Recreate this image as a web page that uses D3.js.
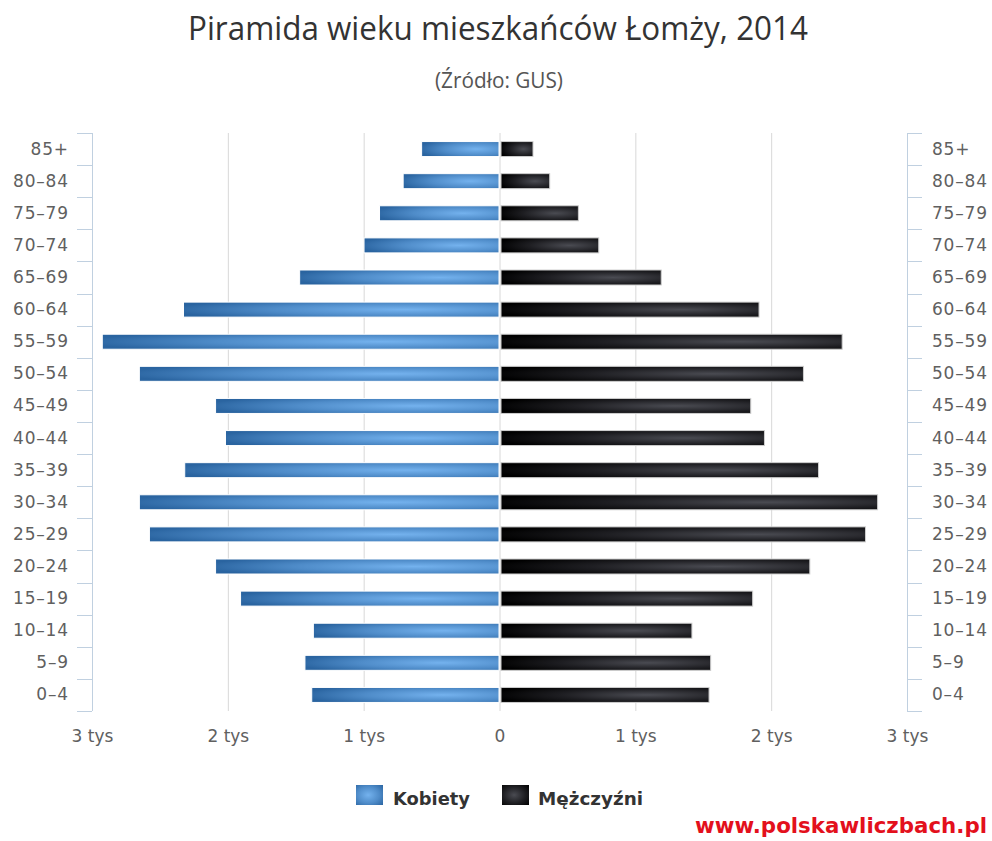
<!DOCTYPE html>
<html>
<head>
<meta charset="utf-8">
<script src="https://cdn.jsdelivr.net/npm/d3@7"></script>
<style>
  html, body { margin: 0; padding: 0; background: #fff; }
  svg { display: block; }
</style>
</head>
<body>
<svg id="chart" width="992" height="841"></svg>
<script>
// ---- data ----
const ageGroups = ["85+","80–84","75–79","70–74","65–69","60–64","55–59","50–54","45–49","40–44","35–39","30–34","25–29","20–24","15–19","10–14","5–9","0–4"];
const kobiety   = [577, 713, 887, 1001, 1475, 2330, 2928, 2655, 2094, 2021, 2321, 2655, 2581, 2094, 1910, 1374, 1436, 1386];
const mezczyzni = [243, 366, 577, 727, 1187, 1907, 2519, 2234, 1846, 1947, 2345, 2780, 2691, 2281, 1860, 1413, 1551, 1539];
const xTickValues = [-3000, -2000, -1000, 0, 1000, 2000, 3000];
const gridValues = [-2000, -1000, 0, 1000, 2000];
const seriesNames = ["Kobiety", "Mężczyźni"];
const titleText = "Piramida wieku mieszkańców Łomży, 2014";
const subtitleText = "(Źródło: GUS)";
const watermark = "www.polskawliczbach.pl";

// ---- layout ----
const svg = d3.select("#chart");
const plotLeft = 92, plotRight = 907, plotTop = 133, plotBottom = 711;
const x = d3.scaleLinear().domain([-3000, 3000]).range([plotLeft, plotRight]);
const y = d3.scaleBand().domain(ageGroups).range([plotTop, plotBottom]).paddingInner(0).paddingOuter(0);
const barH = 15;

const defs = svg.append("defs");
function radial(id, c0, c1, c2, cx) {
  const g = defs.append("radialGradient").attr("id", id)
    .attr("cx", cx).attr("cy", 0.5).attr("r", 0.75).attr("fx", cx).attr("fy", 0.5);
  g.append("stop").attr("offset", "0").attr("stop-color", c0);
  g.append("stop").attr("offset", "0.55").attr("stop-color", c1);
  g.append("stop").attr("offset", "1").attr("stop-color", c2);
}
radial("gF", "#74b2ee", "#4f8cc9", "#2a64a0", 0.7);
radial("gM", "#4a4b52", "#1e1e22", "#000000", 0.7);
radial("gFl", "#74b2ee", "#4f8cc9", "#2a64a0", 0.45);
radial("gMl", "#4a4b52", "#1e1e22", "#000000", 0.45);

// ---- title ----
svg.append("text").attr("x", 498).attr("y", 40).attr("text-anchor", "middle")
  .attr("font-family", "'Open Sans', 'Noto Sans', sans-serif").attr("font-size", 33)
  .attr("fill", "#333").attr("textLength", 620).attr("lengthAdjust", "spacingAndGlyphs")
  .text(titleText);
svg.append("text").attr("x", 499).attr("y", 88).attr("text-anchor", "middle")
  .attr("font-family", "'Open Sans', 'Noto Sans', sans-serif").attr("font-size", 21)
  .attr("fill", "#555").attr("textLength", 128).attr("lengthAdjust", "spacingAndGlyphs")
  .text(subtitleText);

// ---- grid ----
svg.append("g").selectAll("line").data(gridValues).join("line")
  .attr("x1", d => x(d) + 0.5).attr("x2", d => x(d) + 0.5)
  .attr("y1", plotTop).attr("y2", plotBottom)
  .attr("stroke", "#d8d8d8").attr("stroke-width", 1);

// ---- bars ----
const rows = ageGroups.map((g, i) => ({g, f: kobiety[i], m: mezczyzni[i]}));
const bars = svg.append("g");
bars.selectAll("rect.f").data(rows).join("rect").attr("class", "f")
  .attr("x", d => x(-d.f) + 0.5)
  .attr("y", d => y(d.g) + y.bandwidth() / 2 - barH / 2)
  .attr("width", d => x(0) - 1 - x(-d.f))
  .attr("height", barH)
  .attr("fill", "url(#gF)").attr("stroke", "#ffffff").attr("stroke-width", 1);
bars.selectAll("rect.m").data(rows).join("rect").attr("class", "m")
  .attr("x", d => x(0) + 1.5)
  .attr("y", d => y(d.g) + y.bandwidth() / 2 - barH / 2)
  .attr("width", d => x(d.m) - x(0) - 1)
  .attr("height", barH)
  .attr("fill", "url(#gM)").attr("stroke", "#cfcfcf").attr("stroke-width", 1);

// ---- y axes ----
const axisColor = "#c0d0e0";
const labelColor = "#606060";
const boundaries = ageGroups.map(g => y(g)).concat([y.range()[1]]);

function yAxis(xPos, dir) {
  const g = svg.append("g");
  g.append("line").attr("x1", xPos + 0.5).attr("x2", xPos + 0.5)
    .attr("y1", plotTop).attr("y2", plotBottom).attr("stroke", axisColor);
  g.selectAll("line.t").data(boundaries).join("line").attr("class", "t")
    .attr("x1", xPos).attr("x2", xPos + dir * 15)
    .attr("y1", d => Math.round(d) + 0.5).attr("y2", d => Math.round(d) + 0.5)
    .attr("stroke", axisColor);
  const ax = (dir < 0 ? d3.axisLeft(y) : d3.axisRight(y)).tickSize(0).tickPadding(dir < 0 ? 24 : 25);
  const a = svg.append("g").attr("transform", `translate(${xPos},0)`).call(ax);
  a.select(".domain").remove();
  a.selectAll("text").attr("font-family", "'DejaVu Sans', sans-serif")
    .attr("font-size", 17).attr("letter-spacing", dir < 0 ? "0.8px" : "0.8px")
    .attr("fill", labelColor);
  if (dir < 0) a.selectAll("text").attr("dx", "0.8px");
}
yAxis(plotLeft, -1);
yAxis(plotRight, 1);

// ---- x axis ----
const xa = svg.append("g").attr("transform", `translate(0,${plotBottom})`)
  .call(d3.axisBottom(x).tickValues(xTickValues).tickSize(0).tickPadding(19)
    .tickFormat(d => d === 0 ? "0" : Math.abs(d / 1000) + " tys"));
xa.select(".domain").remove();
xa.selectAll("text").attr("font-family", "'DejaVu Sans', sans-serif")
  .attr("font-size", 17).attr("fill", labelColor);

// ---- legend ----
const legendItems = [
  {name: seriesNames[0], sx: 356, tx: 393, fill: "url(#gFl)", w: 77},
  {name: seriesNames[1], sx: 502, tx: 538, fill: "url(#gMl)", w: 105}
];
const lg = svg.append("g");
lg.selectAll("rect").data(legendItems).join("rect")
  .attr("x", d => d.sx).attr("y", 785).attr("width", 27).attr("height", 20)
  .attr("fill", d => d.fill);
lg.selectAll("text").data(legendItems).join("text")
  .attr("x", d => d.tx).attr("y", 805)
  .attr("font-family", "'DejaVu Sans', sans-serif").attr("font-weight", "bold")
  .attr("font-size", 18).attr("fill", "#333")
  .attr("textLength", d => d.w).attr("lengthAdjust", "spacingAndGlyphs")
  .text(d => d.name);

// ---- watermark ----
svg.append("text").attr("x", 987).attr("y", 833).attr("text-anchor", "end")
  .attr("font-family", "'DejaVu Sans', sans-serif").attr("font-weight", "bold")
  .attr("font-size", 21).attr("fill", "#e3101c")
  .attr("textLength", 292).attr("lengthAdjust", "spacingAndGlyphs")
  .text(watermark);
</script>
</body>
</html>
